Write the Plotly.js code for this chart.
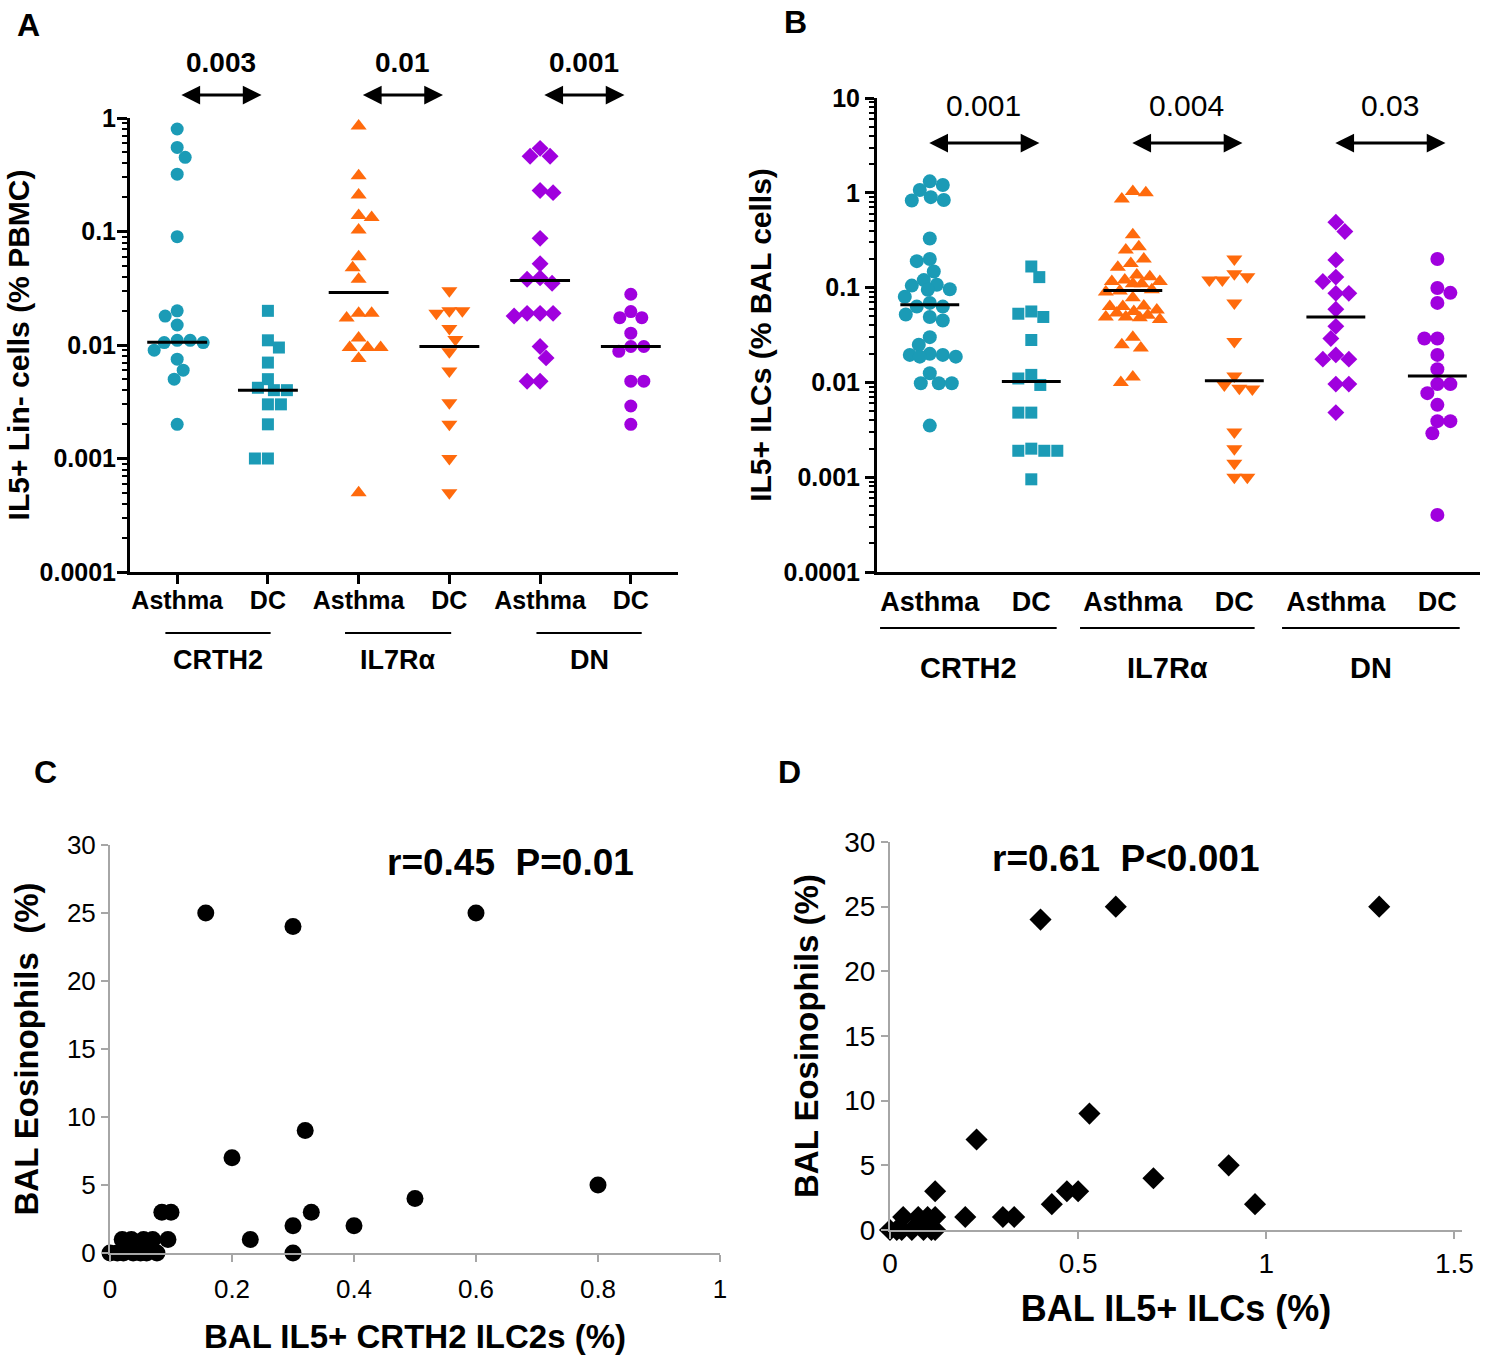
<!DOCTYPE html>
<html><head><meta charset="utf-8">
<script src="https://cdn.plot.ly/plotly-3.0.1.min.js"></script>
<style>body{margin:0;background:#fff}</style>
</head><body><div id="chart" style="width:1500px;height:1362px"></div>
<script>
// ---------------- DATA ----------------
const catLabels = ['Asthma', 'DC', 'Asthma', 'DC', 'Asthma', 'DC'];
const groupNames = ['CRTH2', 'IL7Rα', 'DN'];
const pValuesA = ['0.003', '0.01', '0.001'];
const pValuesB = ['0.001', '0.004', '0.03'];
const tickValsLogA = [0.0001, 0.001, 0.01, 0.1, 1];
const tickTextLogA = ['0.0001', '0.001', '0.01', '0.1', '1'];
const tickValsLogB = [0.0001, 0.001, 0.01, 0.1, 1, 10];
const tickTextLogB = ['0.0001', '0.001', '0.01', '0.1', '1', '10'];

// Panel A: IL5+ Lin- cells (% PBMC)
const aAsthmaCRTH2 = [0.8, 0.55, 0.45, 0.32, 0.09, 0.02, 0.018, 0.015, 0.011, 0.011, 0.0105, 0.0105, 0.009, 0.0075, 0.006, 0.005, 0.002];
const aDcCRTH2 = [0.02, 0.011, 0.0095, 0.007, 0.005, 0.0042, 0.004, 0.004, 0.003, 0.003, 0.002, 0.001, 0.001];
const aAsthmaIL7R = [0.85, 0.31, 0.21, 0.138, 0.133, 0.103, 0.06, 0.048, 0.038, 0.019, 0.019, 0.0173, 0.0115, 0.0095, 0.0095, 0.0095, 0.0076, 0.0005];
const aDcIL7R = [0.03, 0.02, 0.02, 0.019, 0.014, 0.0112, 0.0087, 0.0059, 0.0031, 0.002, 0.001, 0.0005];
const aAsthmaDN = [0.54, 0.46, 0.46, 0.23, 0.22, 0.087, 0.052, 0.039, 0.038, 0.035, 0.019, 0.019, 0.019, 0.018, 0.0097, 0.0077, 0.0048, 0.0048];
const aDcDN = [0.028, 0.0197, 0.0174, 0.0174, 0.0127, 0.0097, 0.0097, 0.0088, 0.0048, 0.0048, 0.0029, 0.002];
const medianA = [0.0106, 0.004, 0.029, 0.0097, 0.037, 0.0097];

// Panel B: IL5+ ILCs (% BAL cells)
const bAsthmaCRTH2 = [1.32, 1.21, 1.07, 0.9, 0.84, 0.83, 0.33, 0.2, 0.19, 0.148, 0.12, 0.107, 0.105, 0.096, 0.095, 0.08, 0.069, 0.063, 0.063, 0.052, 0.049, 0.045, 0.03, 0.025, 0.02, 0.0195, 0.0195, 0.0187, 0.0187, 0.0125, 0.0098, 0.0098, 0.0098, 0.0035];
const bDcCRTH2 = [0.167, 0.129, 0.056, 0.053, 0.049, 0.028, 0.012, 0.011, 0.0094, 0.0048, 0.0048, 0.002, 0.0019, 0.0019, 0.0019, 0.00095];
const bAsthmaIL7R = [1.03, 1.0, 0.86, 0.36, 0.27, 0.25, 0.2, 0.18, 0.164, 0.136, 0.13, 0.12, 0.116, 0.116, 0.11, 0.11, 0.095, 0.092, 0.09, 0.078, 0.064, 0.063, 0.063, 0.058, 0.056, 0.054, 0.051, 0.049, 0.049, 0.048, 0.046, 0.03, 0.025, 0.023, 0.0114, 0.01];
const bDcIL7R = [0.2, 0.14, 0.13, 0.12, 0.12, 0.069, 0.027, 0.0117, 0.0094, 0.0087, 0.0085, 0.003, 0.002, 0.0014, 0.001, 0.001];
const bAsthmaDN = [0.49, 0.39, 0.196, 0.129, 0.116, 0.087, 0.087, 0.059, 0.039, 0.029, 0.0195, 0.0176, 0.0176, 0.0096, 0.0096, 0.0048];
const bDcDN = [0.2, 0.099, 0.088, 0.069, 0.029, 0.029, 0.0195, 0.0138, 0.0096, 0.0096, 0.0077, 0.0058, 0.0039, 0.0039, 0.0029, 0.0004];
const medianB = [0.066, 0.0102, 0.093, 0.0104, 0.049, 0.0117];

// Panel C: BAL IL5+ CRTH2 ILC2s vs BAL eosinophils
const cX = [0.157, 0.3, 0.6, 0.32, 0.2, 0.5, 0.8, 0.33, 0.3, 0.4, 0.23, 0.3, 0.085, 0.1, 0.095, 0.02, 0.035, 0.055, 0.07, 0, 0.012, 0.022, 0.038, 0.05, 0.06, 0.077];
const cY = [25, 24, 25, 9, 7, 4, 5, 3, 2, 2, 1, 0, 3, 3, 1, 1, 1, 1, 1, 0, 0, 0, 0, 0, 0, 0];
const statsC = 'r=0.45\u00a0\u00a0P=0.01';

// Panel D: BAL IL5+ ILCs vs BAL eosinophils
const dX = [0.4, 0.6, 1.3, 0.53, 0.23, 0.9, 0.7, 0.47, 0.5, 0.43, 0.97, 0.2, 0.3, 0.33, 0.12, 0.035, 0.075, 0.1, 0.12, 0, 0.018, 0.031, 0.058, 0.089, 0.11, 0.12];
const dY = [24, 25, 25, 9, 7, 5, 4, 3, 3, 2, 2, 1, 1, 1, 3, 1, 1, 1, 1, 0, 0, 0, 0, 0, 0, 0];
const statsD = 'r=0.61\u00a0\u00a0P<0.001';

// ---------------- LAYOUT GEOMETRY ----------------
const W = 1500, H = 1362;
const FONT = 'Liberation Sans, Arial, sans-serif';
const fx = p => p / W, fy = p => 1 - p / H;
const boxA = {l: 130, r: 678, t: 118, b: 572, x0: -0.52, x1: 5.52, y0: -4, y1: 0};
const boxB = {l: 877, r: 1480, t: 98, b: 572, x0: -0.52, x1: 5.42, y0: -4, y1: 1};
const boxC = {l: 110, r: 720, t: 845, b: 1253};
const boxD = {l: 890, r: 1462, t: 842, b: 1230};

const TEAL = '#1b9bb6', ORANGE = '#ff6a0c', PURPLE = '#a000de';
const styles = [
  {sym: 'circle', color: TEAL}, {sym: 'square', color: TEAL},
  {sym: 'triangle-up', color: ORANGE}, {sym: 'triangle-down', color: ORANGE},
  {sym: 'diamond', color: PURPLE}, {sym: 'circle', color: PURPLE}
];

function swarm(vals, center, box, diam, maxPx) {
  const pxCat = (box.r - box.l) / (box.x1 - box.x0);
  const pxDec = (box.b - box.t) / (box.y1 - box.y0);
  const order = vals.map((v, i) => i).sort((a, b) => vals[b] - vals[a]);
  const placed = [];
  const out = new Array(vals.length).fill(center);
  let flip = 1;
  for (const i of order) {
    const py = Math.log10(vals[i]) * pxDec;
    const cands = [0];
    for (let k = 1; k <= maxPx; k++) cands.push(flip * k, -flip * k);
    let best = 0, bestScore = Infinity;
    for (const c of cands) {
      let minD = Infinity;
      for (const p of placed) { const d = Math.hypot(p.x - c, p.y - py); if (d < minD) minD = d; }
      const free = minD >= diam;
      const score = free ? Math.abs(c) : 1e4 + (diam - minD) * 100 + Math.abs(c);
      if (score < bestScore) { bestScore = score; best = c; }
      if (free) break;
    }
    if (best !== 0) flip = -flip;
    placed.push({x: best, y: py});
    out[i] = center + best / pxCat;
  }
  return out;
}

const traces = [];
function addDotGroups(groups, medians, box, xa, ya, sizes, diam, maxPx, halfW) {
  groups.forEach((vals, i) => {
    traces.push({
      type: 'scatter', mode: 'markers', xaxis: xa, yaxis: ya, cliponaxis: false,
      x: swarm(vals, i, box, diam, maxPx), y: vals,
      marker: {symbol: styles[i].sym, color: styles[i].color, size: sizes[i], line: {width: 0}},
      hoverinfo: 'y', showlegend: false
    });
    traces.push({
      type: 'scatter', mode: 'lines', xaxis: xa, yaxis: ya, cliponaxis: false,
      x: [i - halfW, i + halfW], y: [medians[i], medians[i]],
      line: {color: '#000', width: 3}, hoverinfo: 'skip', showlegend: false
    });
  });
}
addDotGroups([aAsthmaCRTH2, aDcCRTH2, aAsthmaIL7R, aDcIL7R, aAsthmaDN, aDcDN], medianA, boxA, 'x', 'y',
  [13, 12, 14, 14, 13, 13], 12.5, 40, 0.33);
addDotGroups([bAsthmaCRTH2, bDcCRTH2, bAsthmaIL7R, bDcIL7R, bAsthmaDN, bDcDN], medianB, boxB, 'x2', 'y2',
  [14, 12, 14, 14, 13, 14], 13, 27, 0.29);

traces.push({type: 'scatter', mode: 'markers', xaxis: 'x3', yaxis: 'y3', cliponaxis: false,
  x: cX, y: cY, marker: {symbol: 'circle', color: '#000', size: 17}, showlegend: false});
traces.push({type: 'scatter', mode: 'markers', xaxis: 'x4', yaxis: 'y4', cliponaxis: false,
  x: dX, y: dY, marker: {symbol: 'diamond', color: '#000', size: 17}, showlegend: false});

function minorLog(lo, hi) {
  const v = [];
  for (let d = lo; d < hi; d++) for (let k = 2; k <= 9; k++) v.push(k * Math.pow(10, d));
  return v;
}

const blackAxis = {showline: true, linecolor: '#000', linewidth: 3, showgrid: false, zeroline: false,
  ticks: 'outside', tickcolor: '#000', tickwidth: 3, fixedrange: true};
const grayAxis = {showline: true, linecolor: '#a6a6a6', linewidth: 2, showgrid: false, zeroline: false,
  ticks: 'outside', tickcolor: '#a6a6a6', tickwidth: 2, ticklen: 7, fixedrange: true,
  tickfont: {family: FONT, size: 26, color: '#000'}};

const annotations = [];
const shapes = [];
function txt(x, y, text, size, bold, extra) {
  annotations.push(Object.assign({xref: 'paper', yref: 'paper', x: fx(x), y: fy(y), text: text,
    showarrow: false, xanchor: 'center', yanchor: 'middle',
    font: {family: FONT, size: size, color: '#000', weight: bold ? 'bold' : 'normal'}}, extra || {}));
}
// panel letters
txt(28, 25, 'A', 32, true); txt(796, 22, 'B', 32, true); txt(45, 772, 'C', 32, true); txt(790, 772, 'D', 32, true);

// p-value arrows and labels
function pArrows(pvals, xa, yArrow, yText, fontSize, bold, span) {
  pvals.forEach((p, g) => {
    const a = 2 * g + span[0], b = 2 * g + span[1];
    annotations.push({xref: xa, yref: 'paper', axref: xa, ayref: 'pixel', x: b, y: fy(yArrow), ax: a, ay: 0,
      text: '', showarrow: true, arrowside: 'end+start', arrowhead: 2, startarrowhead: 2,
      arrowsize: 1.25, startarrowsize: 1.25, arrowwidth: 3, arrowcolor: '#000', standoff: 0, startstandoff: 0});
    annotations.push({xref: xa, yref: 'paper', x: (a + b) / 2, y: fy(yText), text: p, showarrow: false,
      xanchor: 'center', yanchor: 'middle',
      font: {family: FONT, size: fontSize, color: '#000', weight: bold ? 'bold' : 'normal'}});
  });
}
pArrows(pValuesA, 'x', 95, 62, 28, true, [0.03, 0.93]);
pArrows(pValuesB, 'x2', 143, 106, 30, false, [-0.02, 1.08]);

// group underlines and labels
function groupLines(xa, yLine, yText, spans, fontSize) {
  spans.forEach((s, g) => {
    shapes.push({type: 'line', xref: xa, yref: 'paper', x0: s[0], x1: s[1], y0: fy(yLine), y1: fy(yLine),
      line: {color: '#000', width: 2}});
    annotations.push({xref: xa, yref: 'paper', x: (s[0] + s[1]) / 2, y: fy(yText), text: groupNames[g],
      showarrow: false, xanchor: 'center', yanchor: 'middle',
      font: {family: FONT, size: fontSize, color: '#000', weight: 'bold'}});
  });
}
groupLines('x', 633, 660, [[-0.13, 1.03], [1.85, 3.02], [3.96, 5.12]], 27);
groupLines('x2', 628, 668, [[-0.49, 1.25], [1.48, 3.2], [3.47, 5.22]], 29);

// correlation stats
txt(510, 862, statsC, 37, true);
txt(1125, 858, statsD, 37, true);

const layout = {
  width: W, height: H, margin: {l: 0, r: 0, t: 0, b: 0}, paper_bgcolor: '#fff', plot_bgcolor: '#fff',
  showlegend: false, font: {family: FONT, color: '#000'},
  xaxis: Object.assign({}, blackAxis, {domain: [fx(boxA.l), fx(boxA.r)], anchor: 'y', range: [boxA.x0, boxA.x1],
    tickmode: 'array', tickvals: [0, 1, 2, 3, 4, 5], ticktext: catLabels, ticklen: 9, ticklabelstandoff: -5,
    tickfont: {family: FONT, size: 25, weight: 'bold'}}),
  yaxis: Object.assign({}, blackAxis, {domain: [fy(boxA.b), fy(boxA.t)], anchor: 'x', type: 'log',
    range: [boxA.y0, boxA.y1], tickmode: 'array', tickvals: tickValsLogA, ticktext: tickTextLogA, ticklen: 10,
    ticklabelstandoff: -4,
    minor: {tickmode: 'array', tickvals: minorLog(-4, 0), ticks: 'outside', ticklen: 5, tickwidth: 2, tickcolor: '#000'},
    tickfont: {family: FONT, size: 25, weight: 'bold'},
    title: {text: 'IL5+ Lin- cells (% PBMC)', standoff: 2, font: {family: FONT, size: 30, weight: 'bold'}}}),
  xaxis2: Object.assign({}, blackAxis, {domain: [fx(boxB.l), fx(boxB.r)], anchor: 'y2', range: [boxB.x0, boxB.x1],
    tickmode: 'array', tickvals: [0, 1, 2, 3, 4, 5], ticktext: catLabels, ticks: '', ticklabelstandoff: 4,
    tickfont: {family: FONT, size: 27, weight: 'bold'}}),
  yaxis2: Object.assign({}, blackAxis, {domain: [fy(boxB.b), fy(boxB.t)], anchor: 'x2', type: 'log',
    range: [boxB.y0, boxB.y1], tickmode: 'array', tickvals: tickValsLogB, ticktext: tickTextLogB, ticklen: 9,
    minor: {tickmode: 'array', tickvals: minorLog(-4, 1), ticks: 'outside', ticklen: 5, tickwidth: 2, tickcolor: '#000'},
    tickfont: {family: FONT, size: 25, weight: 'bold'},
    title: {text: 'IL5+ ILCs (% BAL cells)', standoff: 4, font: {family: FONT, size: 30, weight: 'bold'}}}),
  xaxis3: Object.assign({}, grayAxis, {domain: [fx(boxC.l), fx(boxC.r)], anchor: 'y3', range: [0, 1], dtick: 0.2,
    ticklabelstandoff: 5,
    title: {text: 'BAL IL5+ CRTH2 ILC2s (%)', standoff: 22, font: {family: FONT, size: 33, weight: 'bold'}}}),
  yaxis3: Object.assign({}, grayAxis, {domain: [fy(boxC.b), fy(boxC.t)], anchor: 'x3', range: [0, 30], dtick: 5,
    title: {text: 'BAL Eosinophils\u00a0\u00a0(%)', standoff: 18, font: {family: FONT, size: 33, weight: 'bold'}}}),
  xaxis4: Object.assign({}, grayAxis, {domain: [fx(boxD.l), fx(boxD.r)], anchor: 'y4', range: [0, 1.52], dtick: 0.5,
    tickfont: {family: FONT, size: 28, color: '#000'},
    title: {text: 'BAL IL5+ ILCs (%)', standoff: 18, font: {family: FONT, size: 36, weight: 'bold'}}}),
  yaxis4: Object.assign({}, grayAxis, {domain: [fy(boxD.b), fy(boxD.t)], anchor: 'x4', range: [0, 30], dtick: 5,
    tickfont: {family: FONT, size: 28, color: '#000'},
    title: {text: 'BAL Eosinophils (%)', standoff: 16, font: {family: FONT, size: 33, weight: 'bold'}}}),
  annotations: annotations,
  shapes: shapes
};

Plotly.newPlot('chart', traces, layout, {displayModeBar: false, staticPlot: true});
</script>
</body></html>
